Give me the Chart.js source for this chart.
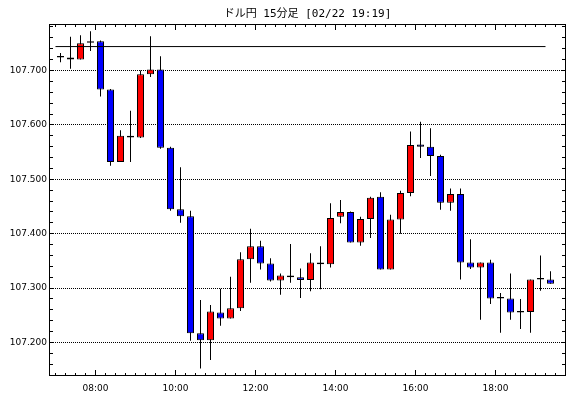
<!DOCTYPE html>
<html><head><meta charset="utf-8">
<script src="https://cdn.jsdelivr.net/npm/chart.js@4/dist/chart.umd.min.js"></script>
<style>html,body{margin:0;padding:0;background:#fff;}#wrap{width:570px;height:398px;}</style>
</head><body><div id="wrap"><canvas id="c" width="570" height="398"></canvas></div>
<script>
const titleText = 'ドル円 15分足 [02/22 19:19]';
const times = ['07:00','07:15','07:30','07:45','08:00','08:15','08:30','08:45','09:00','09:15',
  '09:30','09:45','10:00','10:15','10:30','10:45','11:00','11:15','11:30','11:45',
  '12:00','12:15','12:30','12:45','13:00','13:15','13:30','13:45','14:00','14:15',
  '14:30','14:45','15:00','15:15','15:30','15:45','16:00','16:15','16:30','16:45',
  '17:00','17:15','17:30','17:45','18:00','18:15','18:30','18:45','19:00','19:15'];
const opens = [107.724,107.724,107.720,107.751,107.754,107.665,107.532,107.580,107.577,107.693,
  107.702,107.558,107.445,107.432,107.217,107.204,107.255,107.244,107.263,107.353,
  107.377,107.345,107.314,107.323,107.320,107.315,107.347,107.344,107.431,107.440,
  107.384,107.427,107.468,107.334,107.426,107.475,107.564,107.560,107.543,107.457,
  107.473,107.347,107.338,107.347,107.281,107.281,107.257,107.256,107.316,107.316];
const highs = [107.732,107.762,107.765,107.772,107.755,107.666,107.590,107.626,107.700,107.763,
  107.726,107.560,107.522,107.442,107.278,107.269,107.299,107.321,107.366,107.409,
  107.387,107.355,107.327,107.381,107.336,107.364,107.377,107.456,107.462,107.441,
  107.431,107.468,107.476,107.435,107.479,107.588,107.606,107.594,107.545,107.483,
  107.483,107.390,107.347,107.352,107.291,107.327,107.280,107.316,107.360,107.331];
const lows = [107.715,107.703,107.720,107.736,107.652,107.525,107.532,107.532,107.576,107.688,
  107.556,107.442,107.420,107.203,107.152,107.168,107.231,107.244,107.258,107.310,
  107.334,107.312,107.288,107.310,107.282,107.294,107.298,107.338,107.419,107.384,
  107.378,107.392,107.334,107.334,107.400,107.469,107.539,107.506,107.444,107.442,
  107.316,107.335,107.242,107.271,107.218,107.242,107.225,107.218,107.295,107.308];
const closes = [107.724,107.720,107.750,107.754,107.665,107.532,107.580,107.577,107.693,107.702,
  107.558,107.445,107.432,107.217,107.204,107.257,107.244,107.263,107.353,107.377,
  107.345,107.314,107.323,107.320,107.315,107.347,107.344,107.429,107.440,107.384,
  107.427,107.466,107.334,107.426,107.475,107.563,107.560,107.543,107.457,107.473,
  107.347,107.338,107.347,107.281,107.281,107.255,107.255,107.316,107.316,107.308];
const xTickLabels = ['08:00','10:00','12:00','14:00','16:00','18:00'];
const refLineLevel = 107.744;
const refLineFrom = '07:00';
const refLineTo = '19:15';

const UP = '#ff0000', DOWN = '#0000ff';
const toHours = s => { const [h, m] = s.split(':').map(Number); return h + m / 60; };
const center = s => toHours(s) + 0.125;

const framePlugin = {
  id: 'frame',
  afterDatasetsDraw(chart) {
    const {ctx, chartArea: a, scales: {x, y}} = chart;
    ctx.save();
    ctx.strokeStyle = '#000';
    ctx.lineWidth = 1;
    ctx.beginPath();
    for (let k = 0; k <= 50; k++) {
      const t = 7 + k / 4;
      const px = Math.round(x.getPixelForValue(t) - 0.5) + 0.5;
      if (px > a.right - 1) break;
      const len = (k % 8 === 4) ? 6 : 3;
      ctx.moveTo(px, a.top); ctx.lineTo(px, a.top + len);
      ctx.moveTo(px, a.bottom); ctx.lineTo(px, a.bottom - len);
    }
    for (let k = 0; k < 40; k++) {
      const v = 107.14 + 0.02 * k;
      if (v > y.max) break;
      const py = Math.round(y.getPixelForValue(v) - 0.5) + 0.5;
      ctx.moveTo(a.left, py); ctx.lineTo(a.left + 4, py);
      ctx.moveTo(a.right, py); ctx.lineTo(a.right - 4, py);
    }
    ctx.stroke();
    ctx.strokeRect(a.left + 0.5, a.top + 0.5, a.right - a.left - 1, a.bottom - a.top - 1);
    ctx.restore();
  }
};

new Chart(document.getElementById('c'), {
  type: 'bar',
  data: {
    datasets: [
      {
        type: 'line',
        data: [{x: toHours(refLineFrom), y: refLineLevel}, {x: toHours(refLineTo), y: refLineLevel}],
        borderColor: '#000', borderWidth: 1, pointRadius: 0, fill: false, order: 0
      },
      {
        type: 'bar',
        data: times.map((t, i) => ({x: center(t), y: [opens[i], closes[i]]})),
        backgroundColor: times.map((t, i) => closes[i] >= opens[i] ? UP : DOWN),
        borderColor: '#000', borderWidth: 1, borderSkipped: false,
        barThickness: 7, minBarLength: 1.5, grouped: false, inflateAmount: 0, order: 1
      },
      {
        type: 'bar',
        data: times.map((t, i) => ({x: center(t), y: [lows[i], highs[i]]})),
        backgroundColor: '#000', borderWidth: 0,
        barThickness: 1, grouped: false, inflateAmount: 0, order: 2
      }
    ]
  },
  options: {
    responsive: false,
    animation: false,
    devicePixelRatio: 1,
    layout: {padding: {left: 0, right: 4, top: 0, bottom: 0}},
    plugins: {
      legend: {display: false},
      tooltip: {enabled: false},
      title: {
        display: true, text: titleText, color: '#000', fullSize: false,
        font: {family: '"DejaVu Sans Mono", "Noto Sans CJK JP", monospace', size: 11, weight: 'normal', lineHeight: 1.2},
        padding: {top: 7.5, bottom: 3.3}
      }
    },
    scales: {
      x: {
        type: 'linear', min: 6.8375, max: 19.7625, offset: false,
        grid: {display: false, drawTicks: false},
        border: {display: false},
        ticks: {
          stepSize: 2, includeBounds: false, padding: 7, color: '#000',
          maxRotation: 0, autoSkip: false,
          font: {family: '"DejaVu Sans"', size: 9},
          callback: v => xTickLabels.find(l => Math.abs(toHours(l) - v) < 1e-6) || ''
        },
        afterFit: s => { s.height = 22; }
      },
      y: {
        type: 'linear', min: 107.13842, max: 107.78548, beginAtZero: false,
        grid: {display: true, color: '#000', lineWidth: 1, drawTicks: false},
        border: {display: false, dash: [1, 1]},
        ticks: {
          stepSize: 0.1, includeBounds: false, padding: 2, color: '#000',
          font: {family: '"DejaVu Sans"', size: 9},
          callback: v => Number(v).toFixed(3)
        },
        afterFit: s => { s.width = 49; }
      }
    }
  },
  plugins: [framePlugin]
});
</script></body></html>
